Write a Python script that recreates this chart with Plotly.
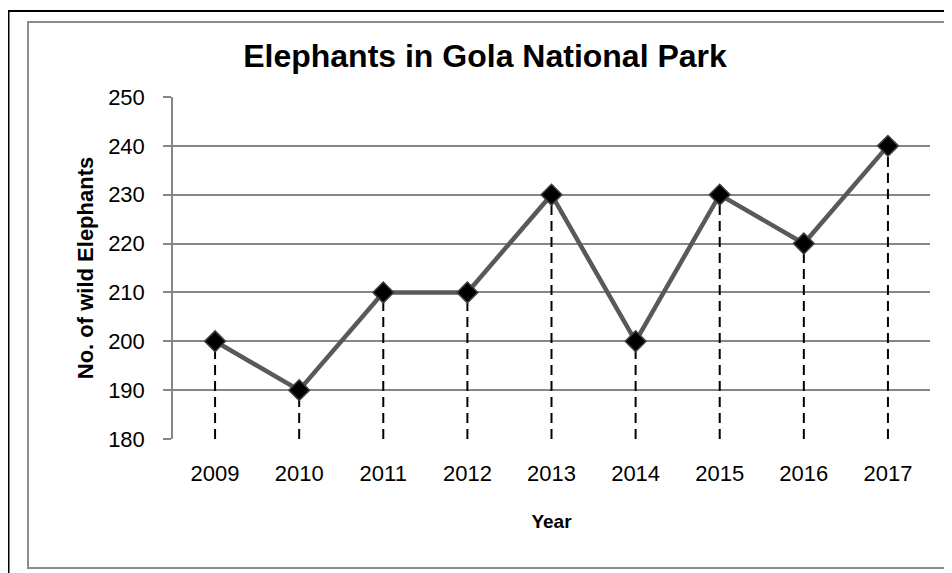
import plotly.graph_objects as go

years = ["2009", "2010", "2011", "2012", "2013", "2014", "2015", "2016", "2017"]
elephants = [200, 190, 210, 210, 230, 200, 230, 220, 240]
y_ticks = [180, 190, 200, 210, 220, 230, 240, 250]
title_text = "Elephants in Gola National Park"
x_title = "Year"
y_title = "No. of wild Elephants"

# the page body adds an 8px margin, so the figure is sized to fit the window
OFF = 8
W, H = 952 - OFF, 573 - OFF
L, R, T, B = 173 - OFF, 22, 97 - OFF, 573 - 439
pw, ph = W - L - R, H - T - B


def px(x_page):
    return (x_page - OFF - L) / pw


def py(y_page):
    return (H - B - (y_page - OFF)) / ph


fig = go.Figure()

# dashed drop lines from each point down to the axis minimum
for yr, v in zip(years, elephants):
    fig.add_trace(go.Scatter(
        x=[yr, yr], y=[y_ticks[0], v], mode="lines",
        line=dict(color="black", width=2, dash="10px,6px"),
        hoverinfo="skip", showlegend=False,
    ))

fig.add_trace(go.Scatter(
    x=years, y=elephants, mode="lines+markers",
    line=dict(color="#595959", width=4.5),
    marker=dict(symbol="diamond", size=16, color="black",
                line=dict(color="#404040", width=1.5)),
    showlegend=False,
))

font = "Liberation Sans, Arial, sans-serif"

fig.update_layout(
    width=W, height=H,
    margin=dict(l=L, r=R, t=T, b=B),
    paper_bgcolor="white", plot_bgcolor="white",
    font=dict(family=font, color="black"),
    title=dict(text="<b>" + title_text + "</b>", x=(485 - OFF) / W, xanchor="center",
               y=1 - (56 - OFF) / H, yanchor="middle", font=dict(size=32, family=font)),
    xaxis=dict(
        type="category", categoryorder="array", categoryarray=years,
        range=[-0.5, len(years) - 0.5],
        showgrid=False, zeroline=False, showline=False,
        ticks="", tickfont=dict(size=22), ticklabelstandoff=19,
        title=dict(text="<b>" + x_title + "</b>", font=dict(size=19), standoff=29),
    ),
    yaxis=dict(
        range=[y_ticks[0], y_ticks[-1]], tickvals=y_ticks,
        showgrid=True, gridcolor="#868686", gridwidth=1.5,
        showline=True, linecolor="#868686", linewidth=1.5,
        zeroline=False,
        ticks="outside", ticklen=8, tickcolor="#868686", tickwidth=1.5,
        tickfont=dict(size=22), ticklabelstandoff=14,
        title=dict(text="<b>" + y_title + "</b>", font=dict(size=22), standoff=8),
    ),
    shapes=[
        dict(type="rect", xref="paper", yref="paper",
             x0=px(8.5), x1=px(990), y0=py(620), y1=py(11),
             line=dict(color="black", width=2), layer="below"),
        dict(type="rect", xref="paper", yref="paper",
             x0=px(28), x1=px(945), y0=py(568), y1=py(22),
             line=dict(color="#8c8c8c", width=2), layer="below"),
    ],
)

fig.write_html("out.html")
